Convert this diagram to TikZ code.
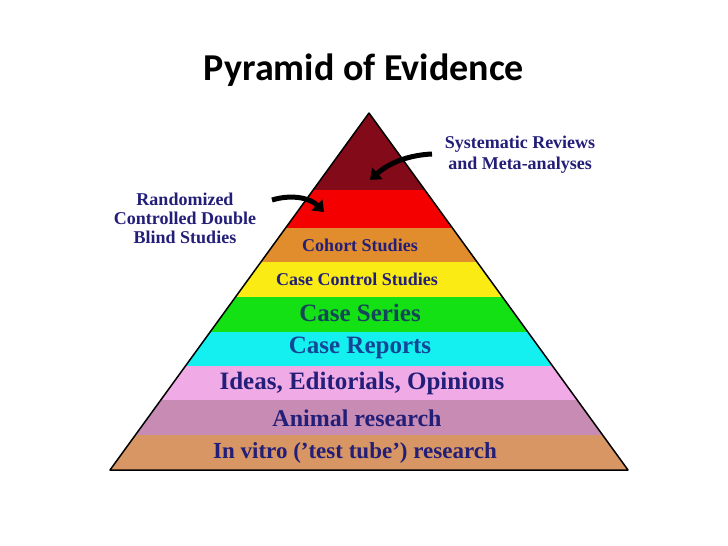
\documentclass[tikz,border=0pt]{standalone}
\usepackage{fontspec}
\setmainfont{Liberation Serif}[Ligatures=ResetAll]
\newfontfamily\titlefont{Carlito}
\usetikzlibrary{arrows.meta}
\definecolor{txt}{RGB}{35,30,120}
\definecolor{cA}{RGB}{130,10,25}
\definecolor{cB}{RGB}{245,0,0}
\definecolor{cC}{RGB}{225,140,45}
\definecolor{cD}{RGB}{250,235,20}
\definecolor{cE}{RGB}{20,225,20}
\definecolor{cF}{RGB}{20,240,240}
\definecolor{cG}{RGB}{240,170,230}
\definecolor{cH}{RGB}{200,140,180}
\definecolor{cI}{RGB}{215,150,100}
\tikzset{lbl/.style={font=\bfseries,text=txt,inner sep=0pt},
 arr/.style={line width=5pt,-{Triangle[length=10pt,width=15pt]}}}
\begin{document}
\begin{tikzpicture}[x=1pt,y=-1pt]
\useasboundingbox (0,0) rectangle (728,546);
\fill[white] (0,0) rectangle (728,546);
\node[font=\titlefont\bfseries\fontsize{38}{44}\selectfont,inner sep=0pt] (title) at (364,70) {Pyramid of Evidence};
\foreach \t/\b/\c in {113/190/cA,190/228/cB,228/262/cC,262/297/cD,297/332/cE,332/366/cF,366/400/cG,400/435/cH,435/470/cI}{
  \pgfmathsetmacro\tl{369-0.7255*(\t-113)}
  \pgfmathsetmacro\tr{369+0.7255*(\t-113)}
  \pgfmathsetmacro\bl{369-0.7255*(\b-113)}
  \pgfmathsetmacro\br{369+0.7255*(\b-113)}
  \fill[\c] (\tl,\t) -- (\tr,\t) -- (\br,\b) -- (\bl,\b) -- cycle;
  \draw[black!70,line width=0.8pt] (\bl,\b) -- (\br,\b);
}
\draw[line width=1.5pt,line join=round] (369,113) -- (110,470) -- (628,470) -- cycle;
\node[lbl,font=\bfseries\fontsize{18}{20}\selectfont] (coh) at (360,245) {Cohort Studies};
\node[lbl,font=\bfseries\fontsize{18}{20}\selectfont] (ccs) at (357,279) {Case Control Studies};
\node[lbl,text={rgb,255:red,20;green,70;blue,90},font=\bfseries\fontsize{25}{28}\selectfont] (cs) at (360,313) {Case Series};
\node[lbl,text={rgb,255:red,20;green,70;blue,150},font=\bfseries\fontsize{25}{28}\selectfont] (cr) at (360,348) {Case Reports};
\node[lbl,font=\bfseries\fontsize{25}{28}\selectfont] (ide) at (362,383) {Ideas, Editorials, Opinions};
\node[lbl,font=\bfseries\fontsize{24}{28}\selectfont] (ani) at (357,418) {Animal research};
\node[lbl,font=\bfseries\fontsize{23}{28}\selectfont] (inv) at (355,453) {In vitro ('test tube') research};
\node[lbl,align=center,font=\bfseries\fontsize{18}{21}\selectfont] (sys) at (520,155) {Systematic Reviews\\and Meta-analyses};
\node[lbl,align=center,font=\bfseries\fontsize{18}{19}\selectfont] (rct) at (185,218) {Randomized\\Controlled Double\\Blind Studies};
\coordinate (sysA) at (432,154);
\coordinate (sysB) at (370,180);
\coordinate (rctA) at (272,200);
\coordinate (rctB) at (324,212);
\draw[arr] (sysA) .. controls (410,155) and (390,162) .. (sysB);
\draw[arr] (rctA) .. controls (292,194) and (310,198) .. (rctB);
\end{tikzpicture}
\end{document}
